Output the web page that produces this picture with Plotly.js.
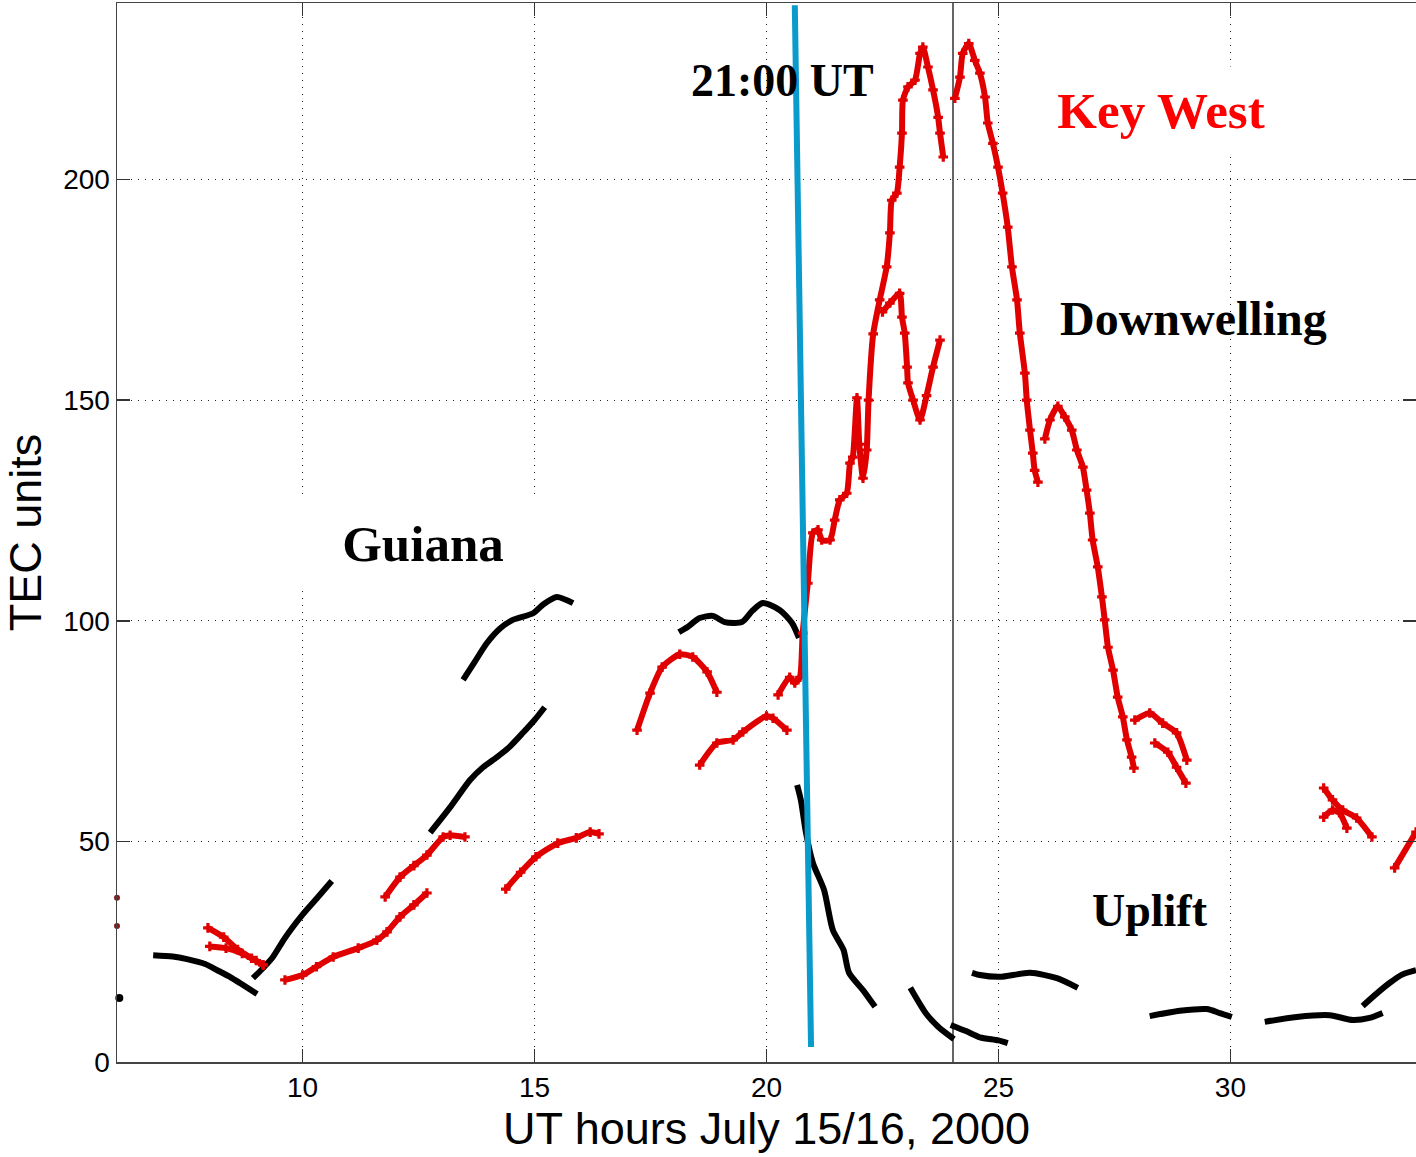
<!DOCTYPE html>
<html>
<head>
<meta charset="utf-8">
<script src="https://cdn.plot.ly/plotly-3.0.1.min.js"></script>
<style>
html,body{margin:0;padding:0;background:#fff;}
#chart{width:1416px;height:1157px;}
</style>
</head>
<body>
<div id="chart"></div>
<script>
// Guiana (black) TEC segments, null separates passes
const guianaX = [6.78,7.2,7.51,7.9,8.16,8.45,8.65,9.02,null,
  8.93,9.15,9.36,9.6,9.79,10.0,10.3,10.63,null,
  12.75,13.2,13.61,13.89,14.19,14.45,14.75,15.0,15.22,null,
  13.46,13.7,13.97,14.25,14.53,14.97,15.2,15.48,15.83,null,
  18.11,18.3,18.56,18.84,19.1,19.47,19.7,19.92,20.29,20.55,20.7,null,
  20.66,20.74,20.85,21.0,21.24,21.43,21.66,21.78,22.08,22.34,null,
  23.1,23.43,23.7,24.04,null,
  23.97,24.3,24.6,25.0,25.2,null,
  24.43,24.6,25.03,25.68,26.26,26.71,null,
  28.26,28.91,29.49,29.77,30.03,null,
  30.74,31.43,32.14,32.64,33.0,33.28,null,
  32.85,33.15,33.43,33.7,34.0];
const guianaY = [24.2,23.9,23.3,22.2,20.8,19.2,17.9,15.4,null,
  19.0,21.3,23.8,27.8,30.6,33.4,37.0,41.0,null,
  52.0,58.0,63.9,66.8,69.1,71.3,74.6,77.5,80.4,null,
  86.6,90.5,94.9,98.2,100.2,101.7,103.8,105.4,104.0,null,
  97.4,98.6,100.6,101.1,99.7,99.7,102.3,104.0,102.4,99.5,96.1,null,
  62.8,59.4,52.0,45.1,39.0,29.9,25.4,20.2,16.3,12.5,null,
  16.8,11.1,8.0,5.2,null,
  8.4,7.0,5.6,4.9,4.3,null,
  20.2,19.7,19.3,20.2,19.0,16.8,null,
  10.4,11.6,12.0,11.1,10.2,null,
  9.1,10.2,10.6,9.5,10.0,11.1,null,
  12.7,15.5,17.9,19.8,20.8];
const guianaDotX = [6.05];
const guianaDotY = [14.5];

// Key West (red) TEC segments
const keyWestX = [7.96,8.3,8.6,8.9,9.15,null,
  8.0,8.35,8.7,9.0,9.15,null,
  9.62,10.0,10.3,10.66,11.2,11.6,11.82,12.1,12.4,12.68,null,
  11.78,12.1,12.4,12.68,13.03,13.18,13.5,null,
  14.38,14.7,15.03,15.5,15.9,16.2,16.39,null,
  17.21,17.49,17.75,18.13,18.41,18.72,18.93,null,
  18.56,18.93,19.28,19.49,20.0,20.14,20.44,null,
  20.25,20.5,20.61,20.72,20.78,20.89,21.0,21.11,21.19,21.37,21.47,21.58,21.73,21.8,21.86,21.95,22.0,22.08,22.16,22.2,22.3,22.44,22.59,22.66,22.7,22.81,22.87,22.92,22.94,23.05,23.2,23.31,23.37,23.48,23.59,23.7,23.74,23.81,null,
  22.5,22.66,22.87,22.92,22.98,23.03,23.05,23.16,23.31,23.45,23.59,23.74,null,
  24.06,24.17,24.23,24.36,24.49,24.6,24.71,24.77,24.88,24.99,25.09,25.2,25.29,25.4,25.46,25.57,25.61,25.68,25.74,25.78,25.85,null,
  26.0,26.11,26.28,26.43,26.58,26.69,26.82,26.9,26.97,27.03,27.14,27.23,27.29,27.36,27.47,27.57,27.68,27.77,27.87,27.92,null,
  27.94,28.26,28.54,28.84,29.06,null,
  28.37,28.65,28.84,29.04,null,
  32.01,32.2,32.42,32.72,33.05,null,
  32.01,32.2,32.35,32.51,null,
  33.54,34.0];
const keyWestY = [30.4,28.3,25.5,23.5,22.0,null,
  26.2,25.8,24.6,23.0,22.0,null,
  18.6,19.7,21.6,23.8,25.8,27.6,29.5,32.9,35.6,38.3,null,
  37.4,41.9,44.5,46.9,51.0,51.4,51.0,null,
  39.2,43.0,46.5,49.6,50.8,52.1,51.7,null,
  75.2,83.6,89.5,92.4,91.8,88.4,83.8,null,
  67.3,72.3,73.0,74.8,78.4,77.9,75.2,null,
  83.2,87.2,85.9,87.2,97.2,108.5,119.9,120.6,118.3,118.3,122.8,127.4,128.9,135.7,137.1,150.5,140,132.3,138.7,150,165,172.7,180.2,187.9,195.3,196.9,202.8,210.5,218,221,222.5,228.6,230,225.5,220.3,214.1,210.5,205.1,null,
  170,172,174.2,168.8,165.2,157.5,153.9,150,145.5,151,157.5,163.6,null,
  218.4,223.2,228.6,230.8,227,224.1,218.7,212.8,208.2,202.8,196.9,189.2,180.2,172.7,165.2,156.1,150,143.2,138,134.1,131.4,null,
  141.2,145.5,148.6,146.2,143.2,138.7,134.8,129.6,124.4,118.3,112.2,105.4,100.2,94.0,88.8,82.7,78.2,73.0,69.1,66.6,null,
  77.5,79.1,76.8,74.6,68.4,null,
  72.3,70.2,66.8,63.2,null,
  62.1,59.4,57.1,55.3,51.0,null,
  55.5,57.1,56.5,53.0,null,
  44.0,52.1];
const keyWestDotX = [6.0, 6.0];
const keyWestDotY = [37.2, 30.8];

// 21:00 UT marker line and midnight line
const markerX = [20.61, 20.96];
const markerY = [239.5, 3.4];
const midnightX = [24.02, 24.02];
const midnightY = [0, 240];

const xTicks = [10, 15, 20, 25, 30];
const yTicks = [0, 50, 100, 150, 200];

const labels = [
  {text: '21:00 UT', x: 20.35, y: 222.5, color: '#000', size: 46, bg: null},
  {text: 'Key West', x: 28.5, y: 215.6, color: '#f00', size: 51, bg: {w: 250, h: 85}},
  {text: 'Downwelling', x: 29.21, y: 168.6, color: '#000', size: 48, bg: null},
  {text: 'Guiana', x: 12.6, y: 117.4, color: '#000', size: 51, bg: {w: 260, h: 89}},
  {text: 'Uplift', x: 28.26, y: 34.4, color: '#000', size: 46, bg: null}
];

const RED = '#e00000';
const traces = [
  {x: midnightX, y: midnightY, mode: 'lines', line: {color: '#333', width: 1.5}, hoverinfo: 'skip'},
  {x: guianaX, y: guianaY, mode: 'lines', line: {color: '#000', width: 6, shape: 'spline', smoothing: 0.7}, connectgaps: false},
  {x: guianaDotX, y: guianaDotY, mode: 'markers', marker: {color: '#000', size: 8}, cliponaxis: false},
  {x: keyWestX, y: keyWestY, mode: 'lines+markers', line: {color: RED, width: 6, shape: 'spline', smoothing: 0.6}, marker: {color: RED, size: 8, symbol: 'cross'}, connectgaps: false},
  {x: keyWestDotX, y: keyWestDotY, mode: 'markers', marker: {color: '#8b1a1a', size: 6}, cliponaxis: false},
  {x: markerX, y: markerY, mode: 'lines', line: {color: '#0a9acb', width: 6}}
];

const annotations = labels.map(l => {
  const a = {text: '<b>' + l.text + '</b>', x: l.x, y: l.y, xref: 'x', yref: 'y',
    showarrow: false, font: {family: 'Liberation Serif, DejaVu Serif, serif', size: l.size, color: l.color},
    xanchor: 'center', yanchor: 'middle'};
  if (l.bg) { a.bgcolor = '#fff'; a.width = l.bg.w; a.height = l.bg.h; }
  return a;
});

const axFont = {family: 'Liberation Sans, Arial, sans-serif', size: 28, color: '#000'};
const layout = {
  width: 1416, height: 1157,
  margin: {l: 117, r: 0, t: 3, b: 95},
  paper_bgcolor: '#fff', plot_bgcolor: '#fff',
  showlegend: false,
  xaxis: {
    range: [6, 34], tickvals: xTicks, ticktext: xTicks.map(String),
    ticks: 'inside', ticklen: 13, tickwidth: 1.5, tickcolor: '#333',
    showline: true, linecolor: '#444', linewidth: 1.5, mirror: 'ticks',
    showgrid: true, gridcolor: '#222', gridwidth: 1, griddash: '1px,6px',
    zeroline: false, tickfont: axFont,
    title: {text: 'UT hours July 15/16, 2000', font: {family: 'Liberation Sans, Arial, sans-serif', size: 45, color: '#000'}, standoff: 10}
  },
  yaxis: {
    range: [0, 240], tickvals: yTicks, ticktext: yTicks.map(String),
    ticks: 'inside', ticklen: 13, tickwidth: 1.5, tickcolor: '#333',
    showline: true, linecolor: '#444', linewidth: 1.5, mirror: 'ticks',
    showgrid: true, gridcolor: '#222', gridwidth: 1, griddash: '1px,6px',
    zeroline: false, tickfont: axFont,
    title: {text: 'TEC units', font: {family: 'Liberation Sans, Arial, sans-serif', size: 45, color: '#000'}, standoff: 8}
  },
  annotations: annotations
};

Plotly.newPlot('chart', traces, layout, {displayModeBar: false, staticPlot: true});
</script>
</body>
</html>
